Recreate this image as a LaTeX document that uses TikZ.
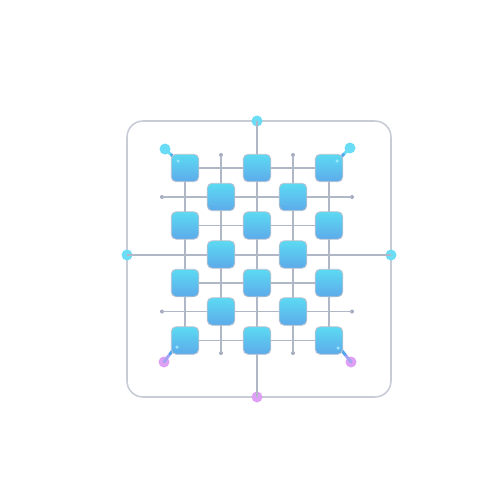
\documentclass[tikz,border=0pt]{standalone}
\usetikzlibrary{calc}
\begin{document}
\definecolor{framec}{HTML}{C8CCD7}
\definecolor{gridc}{HTML}{B0B7C6}
\definecolor{sqtop}{HTML}{5CDAF2}
\definecolor{sqbot}{HTML}{5DAAEA}
\definecolor{sqedge}{HTML}{BAC2D0}
\definecolor{cyandot}{HTML}{6ADCF6}
\definecolor{violetdot}{HTML}{DDA0F5}
\definecolor{enddot}{HTML}{A2AABD}
\definecolor{linkblue}{HTML}{4FA8EE}
\tikzset{
  sq/.style={rounded corners=2.8pt, minimum size=0.55cm, inner sep=0pt, draw=sqedge, line width=0.5pt, top color=sqtop, bottom color=sqbot},
  gline/.style={draw=gridc, line width=0.6pt},
  bigdot/.style={circle, minimum size=0.22cm, inner sep=0pt},
  enddotst/.style={circle, fill=enddot, minimum size=0.08cm, inner sep=0pt},
  hilite/.style={circle, fill=cyandot!70!white, minimum size=0.07cm, inner sep=0pt},
  link/.style={line width=1.7pt, line cap=round},
}
\begin{tikzpicture}[x=0.02cm, y=-0.02cm]
\useasboundingbox (0,0) rectangle (500,500);
% frame
\node[draw=framec, line width=0.9pt, rounded corners=0.32cm, minimum width=5.28cm, minimum height=5.52cm, inner sep=0pt] (frame) at (259,259) {};
% frame dots
\node[bigdot, fill=cyandot] (dt) at (257,121) {};
\node[bigdot, fill=cyandot] (dl) at (127,255) {};
\node[bigdot, fill=cyandot] (dr) at (391,255) {};
\node[bigdot, fill=violetdot] (db) at (257,397) {};
% end dots of the offset lines
\node[enddotst] (h1a) at (162,197) {};
\node[enddotst] (h1b) at (352,197) {};
\node[enddotst] (h3a) at (162,311.5) {};
\node[enddotst] (h3b) at (352,311.5) {};
\node[enddotst] (v1a) at (221,155) {};
\node[enddotst] (v1b) at (221,353) {};
\node[enddotst] (v2a) at (293,155) {};
\node[enddotst] (v2b) at (293,353) {};
% coordinates of square centres
\foreach \c/\x in {1/185,2/257,3/329}{
  \foreach \r/\y in {1/168,2/225.5,3/283,4/340.5}{
    \coordinate (m\r\c) at (\x,\y);
  }
}
\foreach \c/\x in {1/221,2/293}{
  \foreach \r/\y in {1/197,2/254.5,3/311.5}{
    \coordinate (o\r\c) at (\x,\y);
  }
}
% grid lines
\draw[gline] (dt.center) -- (db.center);
\draw[gline] (dl.center) -- (dr.center);
\draw[gline] (h1a.center) -- (h1b.center);
\draw[gline] (h3a.center) -- (h3b.center);
\draw[gline] (v1a.center) -- (v1b.center);
\draw[gline] (v2a.center) -- (v2b.center);
\draw[gline] (m11) -- (m41);
\draw[gline] (m13) -- (m43);
\foreach \r in {1,2,3,4}{ \draw[gline] (m\r1) -- (m\r3); }
% corner dots and links
\node[bigdot, fill=cyandot] (ctl) at (165,149) {};
\node[bigdot, fill=cyandot] (ctr) at (350,148) {};
\node[bigdot, fill=violetdot] (cbl) at (164,362) {};
\node[bigdot, fill=violetdot] (cbr) at (351,362) {};
\coordinate (ktl) at (178,161);
\coordinate (ktr) at (337,161);
\coordinate (kbl) at (176,346);
\coordinate (kbr) at (339,347);
\draw[link, cyandot] (ctl.center) -- ($(ctl.center)!0.5!(ktl)$);
\draw[link, cyandot] (ctr.center) -- ($(ctr.center)!0.5!(ktr)$);
\draw[link, violetdot!60!linkblue] (cbl.center) -- ($(cbl.center)!0.5!(kbl)$);
\draw[link, violetdot!60!linkblue] (cbr.center) -- ($(cbr.center)!0.5!(kbr)$);
\draw[link, linkblue] ($(ctl.center)!0.5!(ktl)$) -- (ktl);
\draw[link, linkblue] ($(ctr.center)!0.5!(ktr)$) -- (ktr);
\draw[link, linkblue] ($(cbl.center)!0.5!(kbl)$) -- (kbl);
\draw[link, linkblue] ($(cbr.center)!0.5!(kbr)$) -- (kbr);
% squares
\foreach \r in {1,2,3,4}{ \foreach \c in {1,2,3}{ \node[sq] (s\r\c) at (m\r\c) {}; } }
\foreach \r in {1,2,3}{ \foreach \c in {1,2}{ \node[sq] (q\r\c) at (o\r\c) {}; } }
% highlights inside corner squares
\node[hilite] (htl) at (178,161) {};
\node[hilite] (htr) at (337,161) {};
\node[hilite] (hbl) at (177,347) {};
\node[hilite] (hbr) at (338,348) {};
\end{tikzpicture}
\end{document}
